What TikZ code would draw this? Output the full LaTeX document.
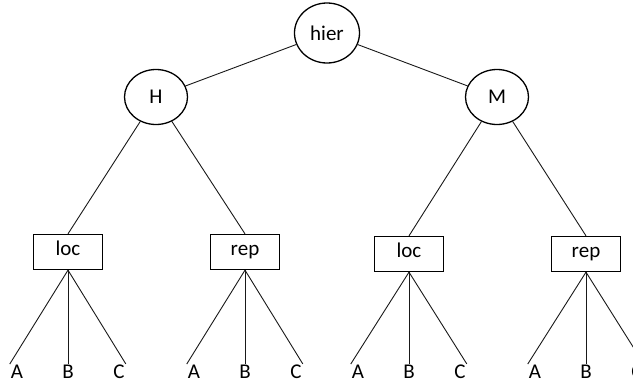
\documentclass[tikz,border=0pt]{standalone}
\usepackage{fontspec}
\setmainfont{Carlito}
\usetikzlibrary{shapes.geometric}

\tikzset{
  txt/.style={font=\fontsize{21}{23}\selectfont},
  knot/.style={draw, ellipse, line width=1.3pt, inner sep=0pt,
               minimum width=63pt, minimum height=55pt, txt},
  labelbox/.style={draw, rectangle, line width=1.3pt, inner sep=0pt,
                   minimum width=69pt, minimum height=35pt, txt,
                   text depth=6pt, text height=13pt},
  leaf/.style={inner sep=1pt, txt},
  edge/.style={line width=0.9pt, draw=black!90}
}

\begin{document}
\begin{tikzpicture}[x=1pt,y=-1pt]
    \useasboundingbox (0,0) rectangle (633,383);

    % top of the tree
    \node[knot, minimum width=65pt, minimum height=60pt] (hier) at (327,33) {hier};
    \node[knot] (H) at (156,97) {H};
    \node[knot] (M) at (497,97) {M};

    % second level
    \node[labelbox] (loc1) at (68,252)  {loc};
    \node[labelbox] (rep1) at (245,252) {rep};
    \node[labelbox] (loc2) at (409,254) {loc};
    \node[labelbox] (rep2) at (586,254) {rep};

    \draw[edge] (hier) -- (H);
    \draw[edge] (hier) -- (M);
    \draw[edge] (H) -- (loc1.north);
    \draw[edge] (H) -- (rep1.north);
    \draw[edge] (M) -- (loc2.north);
    \draw[edge] (M) -- (rep2.north);

    % leaves under each box
    \foreach \b/\x in {loc1/68, rep1/245, loc2/409, rep2/586}{%
      \node[leaf] (\b A) at (\x-51,372) {A};
      \node[leaf] (\b B) at (\x,372)    {B};
      \node[leaf] (\b C) at (\x+51,372) {C};
      \draw[edge] (\b.south) -- (\b A.north west);
      \draw[edge] (\b.south) -- (\b B.north);
      \draw[edge] (\b.south) -- (\b C.north east);
    }
\end{tikzpicture}
\end{document}
